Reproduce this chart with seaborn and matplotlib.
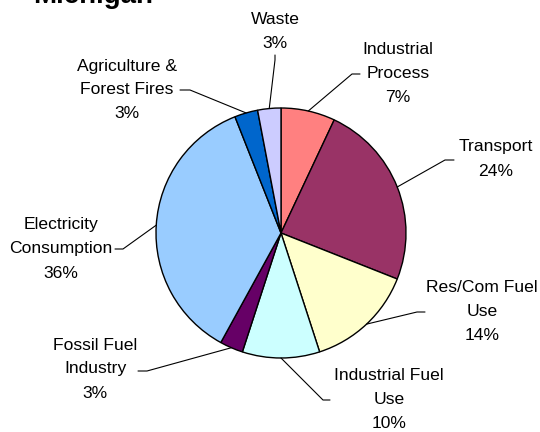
import numpy as np
import matplotlib
matplotlib.use("Agg")
import matplotlib.pyplot as plt
import seaborn as sns

# Michigan emissions by sector (clockwise from 12 o'clock)
sectors = ["Industrial\nProcess", "Transport", "Res/Com Fuel\nUse", "Industrial Fuel\nUse",
           "Fossil Fuel\nIndustry", "Electricity\nConsumption", "Agriculture &\nForest Fires", "Waste"]
shares = [7, 24, 14, 10, 3, 36, 3, 3]
colors = ["#FF8080", "#993366", "#FFFFCC", "#CCFFFF", "#660066", "#99CCFF", "#0066CC", "#CCCCFF"]

# label layout in pixels from top-left (text centre, leader elbow)
label_pos = [(398, 73), (496, 159), (482, 312), (389, 399), (95, 369), (61, 249), (127, 90), (275, 31)]
elbow_pos = [(352, 74), (445, 160), (417, 312), (323, 400), (147, 371), (123, 249), (190, 90), (275, 60)]
line_end = [(360, 74), (454, 160), (425, 312), (330, 400), (138, 371), (115, 249), (180, 90), (275, 55)]

sns.set_theme(style="white")
plt.rcParams['font.family'] = ['Liberation Sans', 'DejaVu Sans']
plt.rcParams['text.color'] = 'black'

W, H = 540, 432
fig = plt.figure(figsize=(5.4, 4.32), dpi=100)
ax = fig.add_axes([0, 0, 1, 1])

cx, cy, r = 281, H - 233, 125
ax.pie(shares, colors=colors, startangle=90, counterclock=False,
       center=(cx, cy), radius=r, frame=True,
       wedgeprops=dict(edgecolor='black', linewidth=1.0))
ax.set_xlim(0, W)
ax.set_ylim(0, H)
ax.set_aspect('equal')
ax.axis('off')

total = sum(shares)
cum = np.cumsum([0] + shares)
for i, name in enumerate(sectors):
    mid = (cum[i] + cum[i + 1]) / 2 / total * 2 * np.pi
    sx, sy = cx + r * np.sin(mid), cy + r * np.cos(mid)
    ex, ey = elbow_pos[i]
    lx, ly = line_end[i]
    ax.plot([sx, ex, lx], [sy, H - ey, H - ly], color='black', lw=0.8)
    tx, ty = label_pos[i]
    ax.text(tx, H - ty, f"{name}\n{shares[i]}%", ha='center', va='center',
            multialignment='center', fontsize=12.6, linespacing=1.75, color='black')

ax.text(33, H - 3, "Michigan", ha='left', va='baseline', fontsize=20,
        fontweight='bold', color='black')

fig.savefig("out.png", dpi=100)
